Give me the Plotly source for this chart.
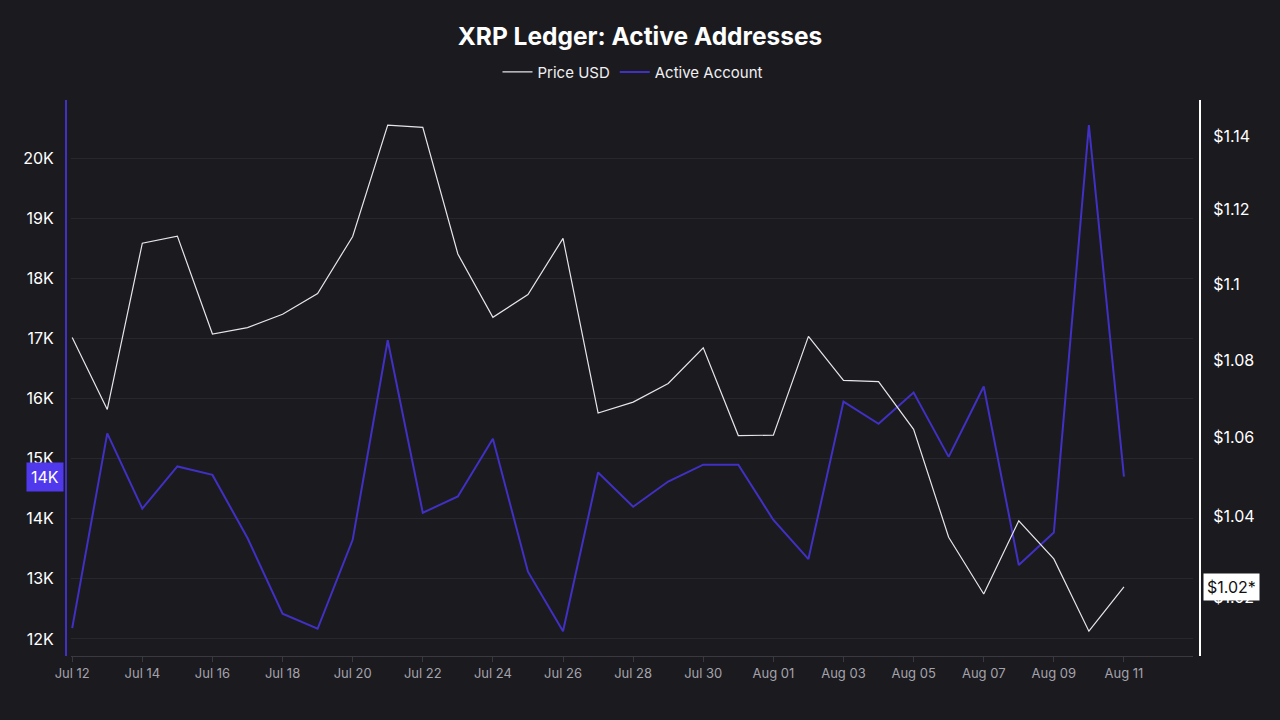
import pandas as pd
import plotly.graph_objects as go

# daily values, Jul 12 -> Aug 11
dates = pd.date_range("2024-07-12", "2024-08-11", freq="D")

price_usd = [
    1.0859, 1.0672, 1.1109, 1.1128, 1.0868, 1.0885, 1.0920, 1.0975,
    1.1127, 1.1430, 1.1424, 1.1080, 1.0912, 1.0972, 1.1122, 1.0663,
    1.0691, 1.0739, 1.0832, 1.0605, 1.0606, 1.0862, 1.0747, 1.0744,
    1.0621, 1.0348, 1.0207, 1.0389, 1.0294, 1.0116, 1.0225,
]

active_accounts = [
    12180, 15420, 14170, 14870, 14730, 13680, 12420, 12170,
    13650, 16970, 14100, 14370, 15330, 13120, 12130, 14770,
    14200, 14620, 14900, 14900, 13980, 13330, 15950, 15580,
    16100, 15030, 16200, 13230, 13770, 20550, 14700,
]

left_ticks = [12000, 13000, 14000, 15000, 16000, 17000, 18000, 19000, 20000]
left_labels = ["12K", "13K", "14K", "15K", "16K", "17K", "18K", "19K", "20K"]
right_ticks = [1.02, 1.04, 1.06, 1.08, 1.10, 1.12, 1.14]
right_labels = ["$1.02", "$1.04", "$1.06", "$1.08", "$1.1", "$1.12", "$1.14"]

BG = "#1b1a1f"
GRID = "#28272d"
PURPLE = "#4030c4"
FONT = "Inter, Roboto, sans-serif"

fig = go.Figure()
fig.add_trace(go.Scatter(
    x=dates, y=price_usd, name="Price USD", mode="lines",
    line=dict(color="#e6e6ea", width=1.2), yaxis="y2",
))
fig.add_trace(go.Scatter(
    x=dates, y=active_accounts, name="Active Account", mode="lines",
    line=dict(color=PURPLE, width=2), yaxis="y",
))

fig.update_layout(
    width=1280, height=720,
    paper_bgcolor=BG, plot_bgcolor=BG,
    font=dict(family=FONT, color="#ffffff"),
    margin=dict(l=66, r=80, t=100, b=64),
    title=dict(text="<b>XRP Ledger: Active Addresses</b>", x=0.5, xanchor="center",
               y=0.949, yanchor="middle", font=dict(size=24.5, color="#ffffff")),
    showlegend=True,
    legend=dict(orientation="h", x=0.5, xanchor="center", y=1.05, yanchor="middle",
                font=dict(size=15, color="#f0f0f2"), itemwidth=30,
                bgcolor="rgba(0,0,0,0)"),
    xaxis=dict(
        domain=[0.0044, 0.9938],
        type="date",
        range=["2024-07-11 23:10", "2024-08-12 23:15"],
        tick0="2024-07-12", dtick=2 * 86400000, tickformat="%b %d",
        showgrid=False, showline=True, linecolor="#3a3940", linewidth=1,
        ticks="outside", ticklen=5, tickcolor="#3a3940",
        tickfont=dict(size=13, color="#a3a3ab"),
        zeroline=False,
    ),
    yaxis=dict(
        anchor="free", position=0, side="left",
        range=[11717, 20967],
        tickvals=left_ticks, ticktext=left_labels,
        tickfont=dict(size=16, color="#ffffff"),
        showgrid=True, gridcolor=GRID, gridwidth=1,
        showline=True, linecolor=PURPLE, linewidth=2,
        ticks="", ticklabelstandoff=8, zeroline=False,
    ),
    yaxis2=dict(
        anchor="free", position=1, side="right", overlaying="y",
        type="log", range=[0.002406, 0.06068],
        tickvals=right_ticks, ticktext=right_labels,
        tickfont=dict(size=16, color="#ffffff"),
        showgrid=False,
        showline=True, linecolor="#ffffff", linewidth=2,
        ticks="", ticklabelstandoff=9, zeroline=False,
    ),
)

# last-value markers on both axes
fig.add_annotation(
    xref="paper", yref="y", x=0, y=active_accounts[-1],
    text="14K", showarrow=False, xanchor="right", yanchor="middle", xshift=-2,
    bgcolor="#5038ec", font=dict(size=16, color="#ffffff"), borderpad=4,
)
fig.add_annotation(
    xref="paper", yref="y2", x=1, y=0.009663,
    text="$1.02*", showarrow=False, xanchor="left", yanchor="middle", xshift=3,
    bgcolor="#ffffff", font=dict(size=16, color="#111111"), borderpad=3,
)

fig.write_html("out.html", config={"displayModeBar": False},
               post_script="document.body.style.margin='0';")
